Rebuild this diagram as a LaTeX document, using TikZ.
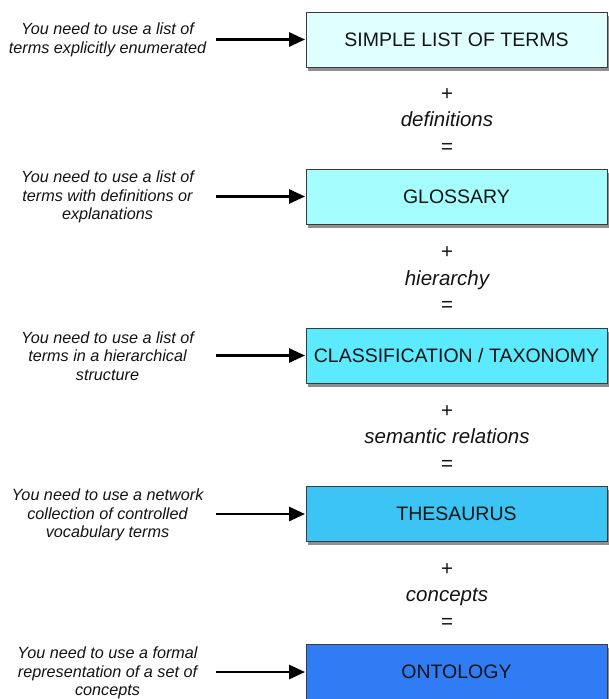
\documentclass[tikz,border=0pt]{standalone}
\usepackage{fontspec}
\setmainfont{Liberation Sans}
\usetikzlibrary{shadows,arrows.meta}
\definecolor{cA}{HTML}{E0FFFF}
\definecolor{cB}{HTML}{A6FDFD}
\definecolor{cC}{HTML}{5CEAFE}
\definecolor{cD}{HTML}{3CC4F5}
\definecolor{cE}{HTML}{2F7CF5}
\definecolor{txt}{HTML}{141414}
\definecolor{bord}{HTML}{3A3A3A}
\tikzset{
  level/.style={draw=bord, line width=0.9pt, minimum width=301pt, minimum height=55pt,
    inner sep=0pt, text=txt, font=\fontsize{19.5}{22}\selectfont,
    drop shadow={shadow xshift=1.5pt, shadow yshift=-3.5pt, fill=black!80, opacity=0.55}},
  need/.style={align=center, text=txt, inner sep=0pt,
    font=\fontsize{16.2}{18.7}\selectfont\itshape},
  mid/.style={anchor=base, text=txt, inner sep=0pt, font=\fontsize{20.5}{24}\selectfont},
  arr/.style={line width=2.8pt, draw=black, -{Triangle[length=16pt,width=14pt]}, shorten >=0.5pt}
}
\begin{document}
\begin{tikzpicture}[x=1pt,y=-1pt]
\useasboundingbox[fill=white] (0,0) rectangle (609,699);
% boxes
\node[level, fill=cA] (b1) at (456.5,39.5) {SIMPLE LIST OF TERMS};
\node[level, fill=cB] (b2) at (456.5,196.5) {GLOSSARY};
\node[level, fill=cC] (b3) at (456.5,355.5) {CLASSIFICATION / TAXONOMY};
\node[level, fill=cD] (b4) at (456.5,514) {THESAURUS};
\node[level, fill=cE] (b5) at (456.5,672) {ONTOLOGY};
% left texts
\node[need] (n1) at (107.5,40) {You need to use a list of\\terms explicitly enumerated};
\node[need] (n2) at (107.5,197) {You need to use a list of\\terms with definitions or\\explanations};
\node[need] (n3) at (107.5,356) {You need to use a list of\\terms in a hierarchical\\structure};
\node[need] (n4) at (107.5,515) {You need to use a network\\collection of controlled\\vocabulary terms};
\node[need] (n5) at (107.5,673) {You need to use a formal\\representation of a set of\\concepts};
% arrows
\coordinate (s1) at (216,39.5);
\coordinate (s2) at (216,196.5);
\coordinate (s3) at (216,355.5);
\coordinate (s4) at (216,514);
\coordinate (s5) at (216,672);
\foreach \i in {1,...,5}{\draw[arr] (s\i) -- (b\i.west);}
% middle labels
\node[mid] (p1) at (447,100) {+};
\node[mid] (l1) at (447,126.5) {\itshape definitions};
\node[mid] (e1) at (447,153) {=};
\node[mid] (p2) at (447,258.5) {+};
\node[mid] (l2) at (447,285) {\itshape hierarchy};
\node[mid] (e2) at (447,311.5) {=};
\node[mid] (p3) at (447,417) {+};
\node[mid] (l3) at (447,443.5) {\itshape semantic relations};
\node[mid] (e3) at (447,470) {=};
\node[mid] (p4) at (447,575) {+};
\node[mid] (l4) at (447,601.5) {\itshape concepts};
\node[mid] (e4) at (447,628) {=};
\end{tikzpicture}
\end{document}
